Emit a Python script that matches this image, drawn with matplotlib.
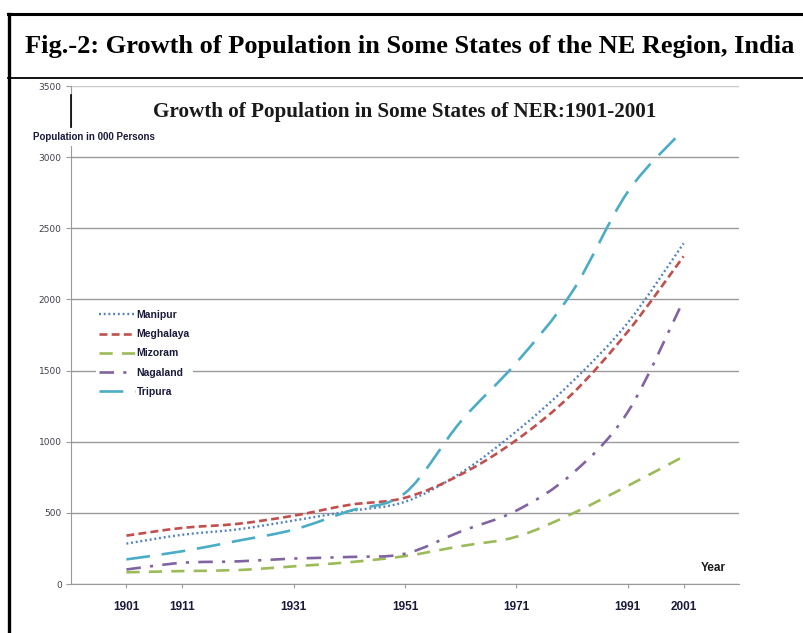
import numpy as np
import matplotlib
matplotlib.use('Agg')
import matplotlib.pyplot as plt
from matplotlib.path import Path
from matplotlib.patches import PathPatch
from matplotlib.lines import Line2D

# data (population in '000 persons), census years
years = [1901, 1911, 1921, 1931, 1941, 1951, 1961, 1971, 1981, 1991, 2001]
manipur = [284, 346, 384, 446, 512, 578, 780, 1073, 1421, 1837, 2394]
meghalaya = [340, 394, 423, 480, 556, 606, 769, 1012, 1336, 1775, 2303]
mizoram = [82, 91, 98, 124, 153, 196, 266, 332, 494, 690, 896]
nagaland = [102, 149, 159, 179, 190, 213, 369, 516, 775, 1210, 1995]
tripura = [173, 230, 304, 382, 513, 639, 1142, 1556, 2053, 2757, 3192]

state_names = ['Manipur', 'Meghalaya', 'Mizoram', 'Nagaland', 'Tripura']
tick_years = [1901, 1911, 1931, 1951, 1971, 1991, 2001]
y_ticks = [0, 500, 1000, 1500, 2000, 2500, 3000, 3500]

styles = [
    ('#4F81BD', (0, (0.8, 1.2)), 1.7),
    ('#C0504D', (0, (3.0, 1.6)), 1.9),
    ('#9BBB59', (0, (5.0, 3.5)), 1.9),
    ('#8064A2', (0, (5.5, 3.5, 1.2, 3.5)), 1.9),
    ('#4BACC6', (0, (9.0, 4.5)), 1.9),
]

NARROW = ['Liberation Sans', 'DejaVu Sans']
SERIF = ['Liberation Serif', 'DejaVu Serif']


def smooth_path(xs, ys):
    """Excel-like smoothed curve through the points (cubic Bezier)"""
    pts = np.column_stack([xs, ys]).astype(float)
    n = len(pts)
    verts = [pts[0]]
    codes = [Path.MOVETO]
    for i in range(n - 1):
        p0 = pts[i - 1] if i > 0 else pts[i]
        p1, p2 = pts[i], pts[i + 1]
        p3 = pts[i + 2] if i + 2 < n else pts[i + 1]
        c1 = p1 + (p2 - p0) / 6.0
        c2 = p2 - (p3 - p1) / 6.0
        verts += [c1, c2, p2]
        codes += [Path.CURVE4] * 3
    return Path(verts, codes)


fig = plt.figure(figsize=(8.04, 6.33), dpi=100)

# header box
W, H = 804.0, 633.0
fig.add_artist(Line2D([8 / W, 1.0], [1 - 14 / H, 1 - 14 / H], color='black', lw=2.2))
fig.add_artist(Line2D([8.5 / W, 8.5 / W], [0, 1 - 14 / H], color='black', lw=2.4))
fig.add_artist(Line2D([8 / W, 1.0], [1 - 77.5 / H, 1 - 77.5 / H], color='black', lw=1.3))
fig.text(410 / W, 1 - 47 / H, 'Fig.-2: Growth of Population in Some States of the NE Region, India',
         ha='center', va='center', fontsize=19, fontweight='bold', family=SERIF)

ax = fig.add_axes([70.7 / W, 49 / H, (739.3 - 70.7) / W, (584 - 86) / H])
ax.set_xlim(1891, 2011)
ax.set_ylim(0, 3500)

for v in y_ticks:
    ax.axhline(v, color='#c8c8c8' if v == 3500 else '#9a9a9a', lw=1.0, zorder=0)

series = [manipur, meghalaya, mizoram, nagaland, tripura]
handles = []
for vals, name, (col, ls, lw) in zip(series, state_names, styles):
    patch = PathPatch(smooth_path(years, vals), fill=False, edgecolor=col,
                      linestyle=ls, lw=lw, capstyle='butt', zorder=3)
    ax.add_patch(patch)
    handles.append(Line2D([], [], color=col, linestyle=ls, lw=lw, label=name))

for s in ['top', 'right']:
    ax.spines[s].set_visible(False)
ax.spines['left'].set_color('#9a9a9a')
ax.spines['bottom'].set_color('#9a9a9a')

ax.set_yticks(y_ticks)
ax.set_yticklabels([str(v) for v in y_ticks])
ax.tick_params(axis='y', length=3.5, color='#9a9a9a', labelsize=6.5,
               labelcolor='#404050', pad=3)
ax.set_xticks(tick_years)
ax.set_xticklabels([str(y) for y in tick_years])
ax.tick_params(axis='x', length=3, color='#9a9a9a', labelsize=8.5,
               labelcolor='#1a1a3a', pad=9)
for lab in ax.get_xticklabels():
    lab.set_family(NARROW)
    lab.set_fontweight('bold')

ax.text(0.5, 1 - (112 - 86) / (584 - 86), 'Growth of Population in Some States of NER:1901-2001',
        transform=ax.transAxes, ha='center', va='center', fontsize=15.2,
        fontweight='bold', family=SERIF, color='#1a1a1a')

fig.text(33 / W, 1 - 137 / H, 'Population in 000 Persons', ha='left', va='center',
         fontsize=7, fontweight='bold', family=NARROW, color='#1a1a3a',
         bbox=dict(facecolor='white', edgecolor='none', pad=3))
fig.add_artist(Line2D([70.7 / W, 70.7 / W], [1 - 95 / H, 1 - 127 / H], color='black', lw=1.2))

fig.text(713 / W, 1 - 568 / H, 'Year', ha='center', va='center', fontsize=8.5,
         fontweight='bold', family=NARROW, color='#1a1a1a')

leg = ax.legend(handles=handles, loc='upper left',
                bbox_to_anchor=(96 / W, 1 - 307 / H), bbox_transform=fig.transFigure,
                frameon=True, framealpha=1.0, edgecolor='none', fancybox=False,
                handlelength=3.4, handletextpad=0.2, labelspacing=0.88,
                borderpad=0.3, borderaxespad=0, prop={'size': 7.5})
for t in leg.get_texts():
    t.set_family(NARROW)
    t.set_fontweight('bold')
    t.set_color('#1a1a3a')

fig.savefig('out.png', dpi=100, facecolor='white')
